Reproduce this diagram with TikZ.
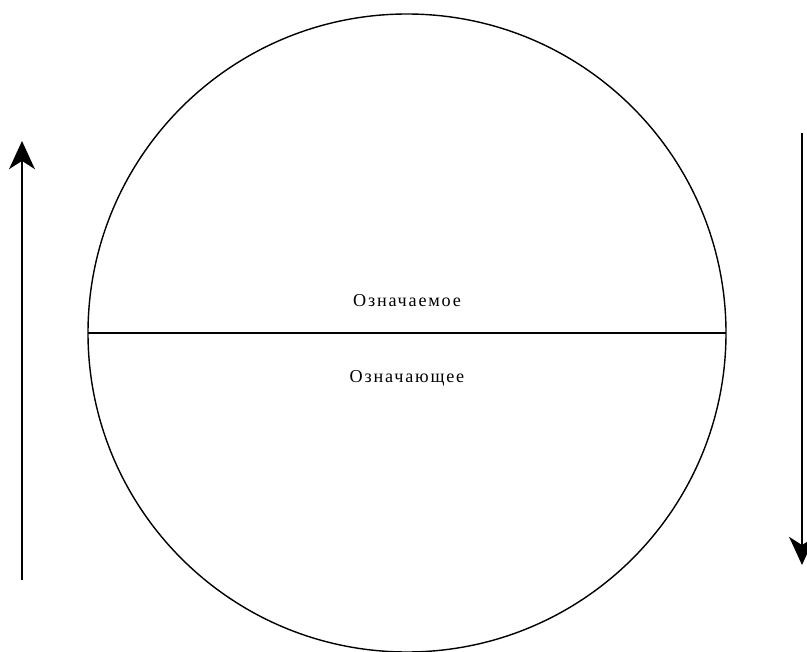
\documentclass[tikz,border=0pt]{standalone}
\usepackage{fontspec}
\setmainfont{Liberation Serif}
\usetikzlibrary{arrows.meta}

\begin{document}
\begin{tikzpicture}[x=0.03cm,y=-0.03cm,
    label text/.style={font=\fontsize{15.5}{18}\selectfont\addfontfeatures{LetterSpace=10}},
    flow arrow/.style={line width=1.9pt,-{Stealth[length=24pt,width=22pt,inset=7pt]}}]
        \useasboundingbox (0,0) rectangle (807,652);
        % Draw the axes
        \def\r{319}
        % Coordinates
        \coordinate (c) at (407,333);
        \coordinate (w) at (88,333);
        \coordinate (e) at (726,333);
        \coordinate (l1) at (22,580);
        \coordinate (l2) at (22,141);
        \coordinate (r1) at (802,133);
        \coordinate (r2) at (802,565);
        % Draw the circle
        \draw[line width=1.2pt] (c) circle (\r);
        \draw[line width=1pt] (w) -- (e);
        % Label the halves
        \node[label text] (top) at (407,301) {Означаемое};
        \node[label text] (bottom) at (407,378) {Означающее};
        % Draw the arrows
        \draw[flow arrow] (l1) -- (l2);
        \draw[flow arrow] (r1) -- (r2);
    \end{tikzpicture}
\end{document}
